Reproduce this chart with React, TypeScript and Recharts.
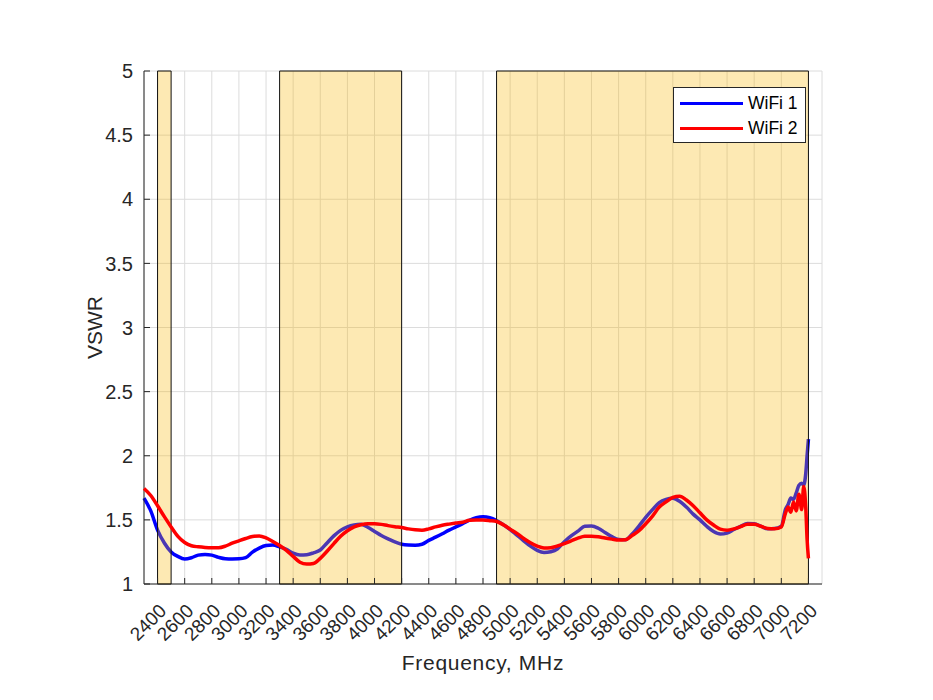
import {
  ComposedChart,
  Line,
  XAxis,
  YAxis,
  CartesianGrid,
  ReferenceArea,
  Legend,
} from "recharts";

// Frequency points (MHz), shared by both traces.
const FREQ = [
  2300, 2350, 2400, 2450, 2500, 2550, 2600, 2650, 2700, 2750, 2800, 2850, 2900, 2950,
  3000, 3050, 3100, 3150, 3200, 3250, 3300, 3350, 3400, 3450, 3500, 3550, 3600, 3650,
  3700, 3750, 3800, 3850, 3900, 3950, 4000, 4050, 4100, 4150, 4200, 4250, 4300, 4350,
  4400, 4450, 4500, 4550, 4600, 4650, 4700, 4750, 4800, 4850, 4900, 4950, 5000, 5050,
  5100, 5150, 5200, 5250, 5300, 5350, 5400, 5450, 5500, 5550, 5600, 5650, 5700, 5750,
  5800, 5850, 5900, 5950, 6000, 6050, 6100, 6150, 6200, 6250, 6300, 6350, 6400, 6450,
  6500, 6550, 6600, 6650, 6700, 6750, 6800, 6850, 6900, 6950, 7000, 7030, 7050, 7070,
  7090, 7110, 7130, 7150, 7165, 7180, 7190, 7200,
];

const WIFI1 = [
  1.67, 1.57, 1.42, 1.32, 1.25, 1.215, 1.195, 1.205, 1.225, 1.23, 1.225, 1.208, 1.197, 1.195,
  1.196, 1.205, 1.248, 1.28, 1.3, 1.304, 1.29, 1.27, 1.24, 1.226, 1.228, 1.243, 1.265, 1.32,
  1.375, 1.418, 1.445, 1.46, 1.465, 1.442, 1.41, 1.378, 1.352, 1.328, 1.31, 1.304, 1.303, 1.31,
  1.34, 1.365, 1.392, 1.42, 1.445, 1.47, 1.497, 1.517, 1.525, 1.518, 1.495, 1.462, 1.425, 1.381,
  1.337, 1.295, 1.262, 1.246, 1.252, 1.275, 1.33, 1.375, 1.412, 1.45, 1.452, 1.435, 1.402, 1.37,
  1.348, 1.345, 1.39, 1.452, 1.52, 1.58, 1.635, 1.66, 1.668, 1.645, 1.6, 1.545, 1.5, 1.45,
  1.41, 1.39, 1.397, 1.425, 1.45, 1.472, 1.47, 1.45, 1.43, 1.432, 1.45, 1.58, 1.62, 1.67,
  1.66, 1.71, 1.77, 1.785, 1.77, 1.86, 2.0, 2.13,
];

const WIFI2 = [
  1.745, 1.69, 1.61, 1.525, 1.445, 1.372, 1.324, 1.298, 1.29, 1.285, 1.283, 1.283, 1.295, 1.318,
  1.337, 1.355, 1.37, 1.375, 1.36, 1.332, 1.3, 1.262, 1.215, 1.17, 1.155, 1.16, 1.2, 1.255,
  1.315, 1.372, 1.415, 1.445, 1.462, 1.47, 1.47, 1.465, 1.455, 1.447, 1.44, 1.43, 1.423, 1.42,
  1.43, 1.445, 1.458, 1.467, 1.475, 1.482, 1.497, 1.5, 1.499, 1.494, 1.487, 1.462, 1.428, 1.395,
  1.355, 1.322, 1.295, 1.28, 1.283, 1.297, 1.315, 1.336, 1.357, 1.372, 1.373, 1.368, 1.358, 1.35,
  1.343, 1.345, 1.378, 1.415, 1.47, 1.53, 1.6, 1.64, 1.675, 1.685, 1.655, 1.61, 1.555, 1.5,
  1.46, 1.428, 1.42, 1.43, 1.447, 1.465, 1.465, 1.45, 1.432, 1.43, 1.445, 1.55, 1.6, 1.56,
  1.64, 1.57, 1.7, 1.58, 1.76, 1.6, 1.35, 1.2,
];

// WiFi bands shaded on the plot (MHz)
const BANDS: [number, number][] = [
  [2400, 2500],
  [3300, 4200],
  [4900, 7200],
];

const X_TICKS = [
  2400, 2600, 2800, 3000, 3200, 3400, 3600, 3800, 4000, 4200, 4400, 4600, 4800,
  5000, 5200, 5400, 5600, 5800, 6000, 6200, 6400, 6600, 6800, 7000, 7200,
];
const Y_TICKS = [1, 1.5, 2, 2.5, 3, 3.5, 4, 4.5, 5];

const data = FREQ.map((f, i) => ({ f, w1: WIFI1[i], w2: WIFI2[i] }));

const AXIS = "#262626";
const FONT = "'Liberation Sans', Arial, Helvetica, sans-serif";
const TICK_LEN = 6;

function BottomTick({ x, y, payload }: any) {
  return (
    <g>
      <line x1={x} x2={x} y1={y} y2={y - TICK_LEN} stroke={AXIS} />
      <text
        transform={`translate(${x + 10},${y + 28}) rotate(-45)`}
        textAnchor="end"
        fontSize={19}
        fontFamily={FONT}
        fill={AXIS}
      >
        {payload.value}
      </text>
    </g>
  );
}

function TopTick({ x, y }: any) {
  return <line x1={x} x2={x} y1={y} y2={y + TICK_LEN} stroke={AXIS} />;
}

function LeftTick({ x, y, payload }: any) {
  return (
    <g>
      <line x1={x} x2={x + TICK_LEN} y1={y} y2={y} stroke={AXIS} />
      <text x={x - 11} y={y} dy="0.36em" textAnchor="end" fontSize={20} fontFamily={FONT} fill={AXIS}>
        {payload.value}
      </text>
    </g>
  );
}

function RightTick({ x, y }: any) {
  return <line x1={x} x2={x - TICK_LEN} y1={y} y2={y} stroke={AXIS} />;
}

function XTitle({ viewBox }: any) {
  return (
    <text
      x={viewBox.x + viewBox.width / 2}
      y={662}
      textAnchor="middle"
      fontSize={21}
      letterSpacing={0.7}
      fontFamily={FONT}
      fill={AXIS}
    >
      Frequency, MHz
    </text>
  );
}

function YTitle({ viewBox }: any) {
  const cy = viewBox.y + viewBox.height / 2;
  return (
    <text
      transform={`translate(94,${cy}) rotate(-90)`}
      textAnchor="middle"
      fontSize={21}
      fontFamily={FONT}
      fill={AXIS}
    >
      VSWR
    </text>
  );
}

const SERIES = [
  { name: "WiFi 1", color: "#0000ff" },
  { name: "WiFi 2", color: "#ff0000" },
];

function LegendBox() {
  return (
    <div
      style={{
        width: 133,
        height: 56,
        boxSizing: "border-box",
        border: `1px solid ${AXIS}`,
        background: "#fff",
        padding: "3px 0 0 6px",
        fontFamily: FONT,
        fontSize: 17.5,
        color: "#000",
      }}
    >
      {SERIES.map((s) => (
        <div key={s.name} style={{ display: "flex", alignItems: "center", height: 25 }}>
          <span style={{ display: "inline-block", width: 63, height: 3, background: s.color, marginRight: 5 }} />
          <span>{s.name}</span>
        </div>
      ))}
    </div>
  );
}

export default function App() {
  return (
    <ComposedChart
      width={900}
      height={680}
      data={data}
      margin={{ top: 63, right: 86, bottom: 0, left: 0 }}
      style={{ background: "#fff" }}
    >
      <CartesianGrid stroke="#dcdcdc" strokeWidth={1} />
      <XAxis
        dataKey="f"
        type="number"
        domain={[2300, 7300]}
        ticks={X_TICKS}
        interval={0}
        height={104}
        tickSize={0}
        tickMargin={0}
        tickLine={false}
        axisLine={{ stroke: AXIS }}
        tick={<BottomTick />}
        label={<XTitle />}
      />
      <XAxis
        xAxisId="top"
        orientation="top"
        dataKey="f"
        type="number"
        domain={[2300, 7300]}
        ticks={X_TICKS}
        interval={0}
        height={0}
        tickSize={0}
        tickMargin={0}
        tickLine={false}
        axisLine={{ stroke: AXIS }}
        tick={<TopTick />}
      />
      <YAxis
        type="number"
        domain={[1, 5]}
        ticks={Y_TICKS}
        interval={0}
        width={136}
        tickSize={0}
        tickMargin={0}
        tickLine={false}
        axisLine={{ stroke: AXIS }}
        tick={<LeftTick />}
        label={<YTitle />}
      />
      <YAxis
        yAxisId="right"
        orientation="right"
        type="number"
        domain={[1, 5]}
        ticks={Y_TICKS}
        interval={0}
        width={0}
        tickSize={0}
        tickMargin={0}
        tickLine={false}
        axisLine={{ stroke: AXIS }}
        tick={<RightTick />}
      />
      <Line
        dataKey="w1"
        name="WiFi 1"
        type="monotone"
        stroke="#0000ff"
        strokeWidth={3.5}
        dot={false}
        isAnimationActive={false}
      />
      <Line
        dataKey="w2"
        name="WiFi 2"
        type="monotone"
        stroke="#ff0000"
        strokeWidth={3.5}
        dot={false}
        isAnimationActive={false}
        zIndex={600}
      />
      {BANDS.map(([a, b]) => (
        <ReferenceArea
          key={a}
          x1={a}
          x2={b}
          y1={1}
          y2={5}
          fill="#f8b602"
          fillOpacity={0.3}
          stroke="#111"
          strokeWidth={1}
          zIndex={500}
        />
      ))}
      <Legend
        layout="horizontal"
        verticalAlign="middle"
        align="center"
        content={<LegendBox />}
        wrapperStyle={{ top: 79, left: 665, width: 133, height: 56 }}
      />
    </ComposedChart>
  );
}
